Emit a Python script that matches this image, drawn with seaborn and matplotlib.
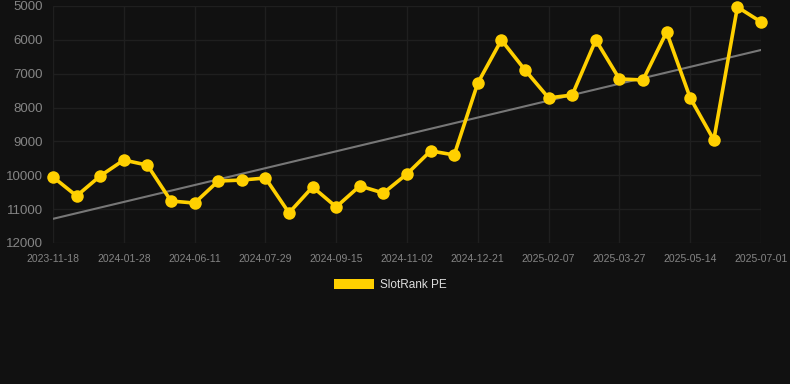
import numpy as np
import pandas as pd
import matplotlib
matplotlib.use("Agg")
import matplotlib.pyplot as plt
from matplotlib.patches import Patch
import seaborn as sns

values = [10050, 10610, 10020, 9550, 9700, 10760, 10820, 10170, 10140, 10080,
          11110, 10345, 10935, 10315, 10525, 9960, 9280, 9400, 7275, 6005,
          6890, 7715, 7630, 6005, 7155, 7185, 5770, 7715, 8955, 5030, 5470]
tick_labels = ["2023-11-18", "2024-01-28", "2024-06-11", "2024-07-29", "2024-09-15",
               "2024-11-02", "2024-12-21", "2025-02-07", "2025-03-27", "2025-05-14",
               "2025-07-01"]
y_ticks = [5000, 6000, 7000, 8000, 9000, 10000, 11000, 12000]
series_name = "SlotRank PE"

bg = "#111111"
yellow = "#FFD000"

sns.set_theme(style="dark")
plt.rcParams["font.family"] = ["Liberation Sans", "DejaVu Sans"]

df = pd.DataFrame({"idx": np.arange(len(values)), "value": values})

fig = plt.figure(figsize=(7.9, 3.84), dpi=100, facecolor=bg)
ax = fig.add_axes([53 / 790, 1 - 243 / 384, (761 - 53) / 790, (243 - 6) / 384])
ax.set_facecolor(bg)

# trend line (least squares)
coef = np.polyfit(df["idx"], df["value"], 1)
trend = np.polyval(coef, df["idx"])
ax.plot(df["idx"], trend, color="#777777", lw=1.5, zorder=2)

sns.lineplot(data=df, x="idx", y="value", ax=ax, color=yellow, lw=2.6,
             marker="o", markersize=9, markeredgewidth=0, zorder=3,
             clip_on=False)

ax.set_xlim(0, len(values) - 1)
ax.set_ylim(12000, 5000)
ax.set_yticks(y_ticks)
ax.set_yticklabels([str(v) for v in y_ticks], color="#858585", fontsize=9.5)
ax.set_xticks(np.arange(0, len(values), 3))
ax.set_xticklabels(tick_labels, color="#858585", fontsize=7.5)
ax.tick_params(axis="y", length=0, pad=7)
ax.tick_params(axis="x", length=0, pad=8)
ax.grid(True, color="#1f1f1f", lw=1.0)
for s in ax.spines.values():
    s.set_visible(False)
ax.set_xlabel("")
ax.set_ylabel("")

fig.legend(handles=[Patch(facecolor=yellow, edgecolor="none", label=series_name)],
           loc="center", bbox_to_anchor=(390 / 790, 1 - 285 / 384), frameon=False,
           fontsize=8.5, labelcolor="#dddddd", handlelength=3.4, handleheight=1.0,
           handletextpad=0.5)

fig.savefig("out.png", dpi=100, facecolor=bg)
